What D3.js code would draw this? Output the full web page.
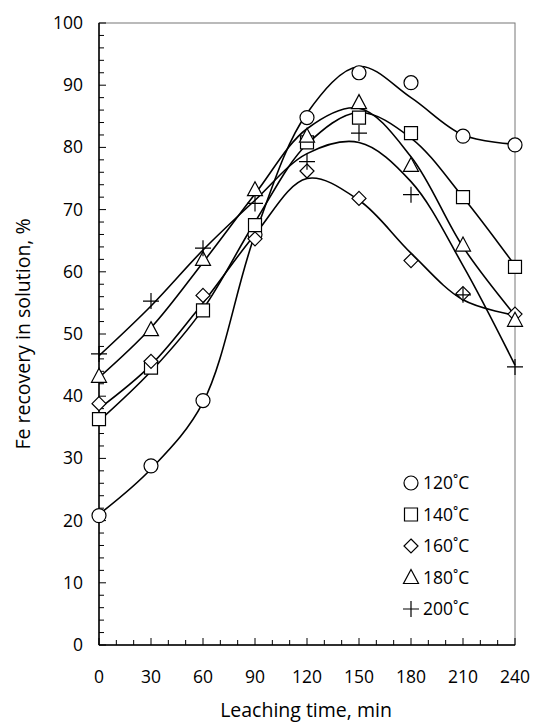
<!DOCTYPE html>
<html><head><meta charset="utf-8">
<script src="https://cdn.jsdelivr.net/npm/d3@7"></script>
<style>body{margin:0;background:#fff}text{font-family:"Open Sans",sans-serif;fill:#000}</style>
</head><body><svg width="533" height="726"></svg>
<script>
var times = [0, 30, 60, 90, 120, 150, 180, 210, 240];
var series = ["120˚C", "140˚C", "160˚C", "180˚C", "200˚C"];
var s120 = [20.8, 28.8, 39.3, 66, 84.8, 92, 90.4, 81.8, 80.4];
var s140 = [36.3, 44.6, 53.8, 67.5, 80.8, 84.8, 82.3, 72, 60.8];
var s160 = [38.8, 45.6, 56.2, 65.3, 76.2, 71.8, 61.8, 56.5, 53.2];
var s180 = [43.2, 50.7, 62, 73.2, 81.8, 87.2, 77.1, 64.3, 52.2];
var s200 = [46.8, 55.3, 63.8, 71, 77.7, 82.3, 72.4, 56.3, 44.7];
// fitted trend lines
var fitTimes = [0, 30, 60, 90, 120, 150, 180, 210, 240];
var f120 = [21, 28.3, 39, 66, 85.5, 93, 88, 82, 80.5];
var f140 = [36, 44, 54, 68, 80.5, 85.6, 81.5, 72, 61];
var f160 = [38, 45, 55, 66, 75, 71.5, 63, 55.5, 53];
var f180 = [43, 51, 61.5, 72.5, 83, 86.3, 78.5, 64, 53];
var f200 = [46.5, 54.5, 63.5, 71.5, 79, 80.8, 74.5, 61, 45];
var values = [s120, s140, s160, s180, s200];
var fits = [f120, f140, f160, f180, f200];
var xTicks = [0, 30, 60, 90, 120, 150, 180, 210, 240];
var yTicks = [0, 10, 20, 30, 40, 50, 60, 70, 80, 90, 100];

var svg = d3.select("svg");
var x = d3.scaleLinear().domain([0, 240]).range([99, 515]);
var y = d3.scaleLinear().domain([0, 100]).range([645, 23]);

svg.append("rect").attr("x", 99).attr("y", 23).attr("width", 416).attr("height", 622)
	.attr("fill", "none").attr("stroke", "#777").attr("stroke-width", 1);

var g = svg.append("g");
g.append("line").attr("x1", 99).attr("x2", 99).attr("y1", 23).attr("y2", 645).attr("stroke", "#000").attr("stroke-width", 1.5);
g.append("line").attr("x1", 99).attr("x2", 515).attr("y1", 645).attr("y2", 645).attr("stroke", "#000").attr("stroke-width", 1.5);
d3.range(0, 101, 2).forEach(function(v){
	var major = v % 10 == 0;
	g.append("line").attr("x1", 99).attr("x2", 99 + (major ? 7 : 5)).attr("y1", y(v)).attr("y2", y(v)).attr("stroke", "#000");
});
yTicks.forEach(function(v){
	g.append("text").attr("x", 83).attr("y", y(v) + 6).attr("text-anchor", "end").attr("font-size", 17.5).text(v);
});
d3.range(0, 241, 10).forEach(function(v){
	var major = v % 30 == 0;
	g.append("line").attr("x1", x(v)).attr("x2", x(v)).attr("y1", 645).attr("y2", 645 - (major ? 7 : 5)).attr("stroke", "#000");
});
xTicks.forEach(function(v){
	g.append("text").attr("x", x(v)).attr("y", 683).attr("text-anchor", "middle").attr("font-size", 17.5).text(v);
});
svg.append("text").attr("x", 306).attr("y", 717).attr("text-anchor", "middle").attr("font-size", 19.5).text("Leaching time, min");
svg.append("text").attr("transform", "translate(30,334) rotate(-90)").attr("text-anchor", "middle").attr("font-size", 19.5).text("Fe recovery in solution, %");

var line = d3.line().x(function(d, i){ return x(fitTimes[i]); }).y(function(d){ return y(d); }).curve(d3.curveCatmullRom.alpha(0.5));
fits.forEach(function(f){
	svg.append("path").attr("d", line(f)).attr("fill", "none").attr("stroke", "#000").attr("stroke-width", 1.6);
});

// marker outlines
var shapes = [
	"M7,0A7,7 0 1,1 -7,0A7,7 0 1,1 7,0Z",
	"M-6.5,-6.5H6.5V6.5H-6.5Z",
	"M0,-7L7,0L0,7L-7,0Z",
	"M0,-8L7.5,6H-7.5Z",
	"M-8,0H8M0,-8V8"
];
function mark(sel, i){
	sel.attr("d", shapes[i]).attr("fill", i == 4 ? "none" : "#fff").attr("stroke", "#000").attr("stroke-width", 1.2);
}
values.forEach(function(vals, i){
	vals.forEach(function(v, j){
		mark(svg.append("path").attr("transform", "translate(" + x(times[j]) + "," + y(v) + ")"), i);
	});
});

series.forEach(function(s, i){
	var yy = 483 + i * 31.5;
	mark(svg.append("path").attr("transform", "translate(411," + yy + ")"), i);
	svg.append("text").attr("x", 423).attr("y", yy + 6).attr("font-size", 17.5).text(s);
});
</script></body></html>
